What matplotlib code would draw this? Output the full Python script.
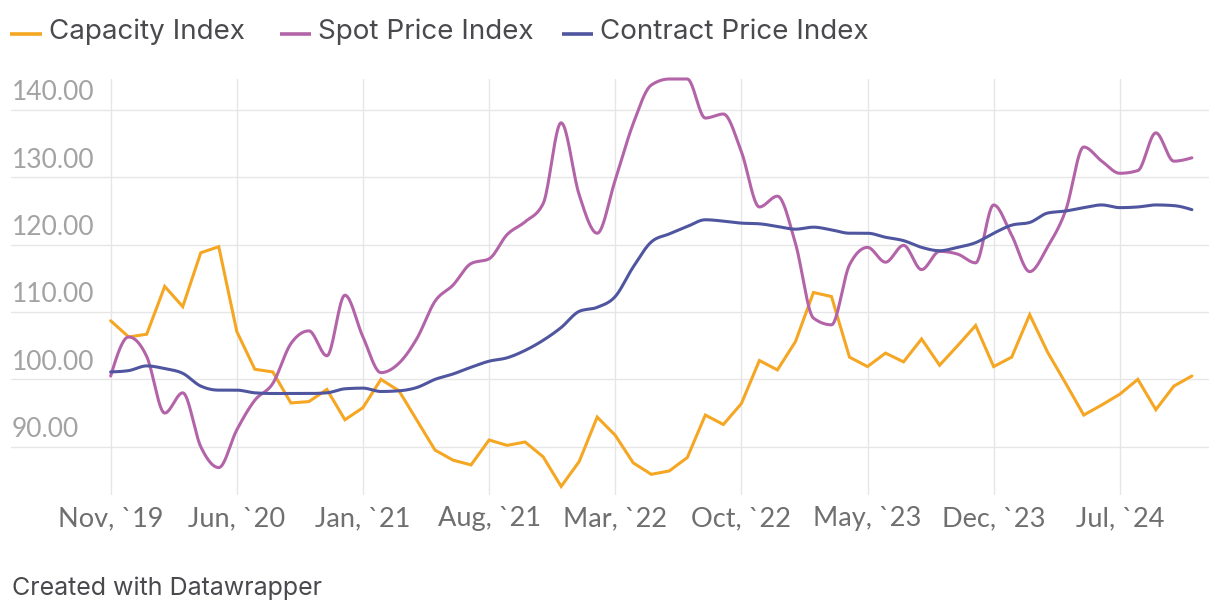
import numpy as np
import matplotlib
matplotlib.use("Agg")
import matplotlib.pyplot as plt
from matplotlib.lines import Line2D

# ---------------- data ----------------
start_month = "2019-11"
capacity = [108.7, 106.3, 106.7, 113.8, 110.8, 118.8, 119.7, 107.1, 101.5, 101.1,
            96.5, 96.7, 98.5, 94.0, 95.8, 100.0, 98.3, 93.9, 89.5, 88.0,
            87.3, 91.0, 90.2, 90.7, 88.5, 84.1, 87.8, 94.4, 91.7, 87.6,
            85.9, 86.4, 88.4, 94.7, 93.3, 96.4, 102.8, 101.4, 105.6, 112.9,
            112.3, 103.3, 101.9, 103.9, 102.6, 106.0, 102.1, 105.0, 108.0, 101.9,
            103.3, 109.6, 104.0, 99.4, 94.7, 96.2, 97.8, 100.0, 95.5, 99.0, 100.5]
spot = [100.5, 106.3, 103.4, 95.0, 98.0, 90.0, 86.9, 92.5, 96.9, 99.4,
        105.3, 107.2, 103.5, 112.5, 106.3, 101.0, 102.4, 106.1, 111.6, 114.0,
        117.2, 117.9, 121.5, 123.4, 126.1, 138.1, 127.4, 121.7, 129.6, 138.0,
        143.7, 144.6, 144.6, 138.8, 139.4, 133.8, 125.6, 127.2, 120.2, 109.1,
        108.1, 117.0, 119.6, 117.4, 119.9, 116.3, 119.0, 118.6, 117.3, 125.9,
        121.4, 116.0, 119.7, 125.1, 134.5, 132.4, 130.6, 131.0, 136.6, 132.4, 132.9]
contract = [101.1, 101.3, 102.0, 101.6, 100.9, 99.0, 98.4, 98.4, 98.0, 97.9,
            97.9, 97.9, 98.0, 98.6, 98.7, 98.2, 98.3, 98.8, 100.0, 100.8,
            101.8, 102.7, 103.2, 104.3, 105.8, 107.7, 110.1, 110.7, 112.3, 116.7,
            120.4, 121.6, 122.7, 123.7, 123.5, 123.2, 123.1, 122.7, 122.3, 122.6,
            122.2, 121.7, 121.7, 121.1, 120.6, 119.6, 119.1, 119.6, 120.3, 121.7,
            122.9, 123.3, 124.7, 125.0, 125.5, 125.9, 125.5, 125.6, 125.9, 125.8, 125.2]
series_names = ["Capacity Index", "Spot Price Index", "Contract Price Index"]
tick_labels = ["Nov, `19", "Jun, `20", "Jan, `21", "Aug, `21", "Mar, `22",
               "Oct, `22", "May, `23", "Dec, `23", "Jul, `24"]
y_ticks = [90, 100, 110, 120, 130, 140]

# ---------------- styling ----------------
FONT = "Lato"
FONT2 = "Inter"
C_ORANGE = "#f5a623"
C_PURPLE = "#b364a8"
C_NAVY = "#4f569f"
GRID = "#e6e6e6"


def monotone_x(x, y, n=20):
    """d3.curveMonotoneX style interpolation (Steffen slopes)."""
    x = np.asarray(x, float)
    y = np.asarray(y, float)
    h = np.diff(x)
    s = np.diff(y) / h
    m = np.zeros_like(y)
    for i in range(1, len(y) - 1):
        s0, s1, h0, h1 = s[i - 1], s[i], h[i - 1], h[i]
        p = (s0 * h1 + s1 * h0) / (h0 + h1)
        m[i] = (np.sign(s0) + np.sign(s1)) * min(abs(s0), abs(s1), 0.5 * abs(p))
    m[0] = (3 * s[0] - m[1]) / 2 if len(y) > 2 else s[0]
    m[-1] = (3 * s[-1] - m[-2]) / 2 if len(y) > 2 else s[-1]
    xs, ys = [], []
    for i in range(len(y) - 1):
        t = np.linspace(0, 1, n, endpoint=False)
        h00 = 2 * t**3 - 3 * t**2 + 1
        h10 = t**3 - 2 * t**2 + t
        h01 = -2 * t**3 + 3 * t**2
        h11 = t**3 - t**2
        xs.append(x[i] + t * h[i])
        ys.append(h00 * y[i] + h10 * h[i] * m[i] + h01 * y[i + 1] + h11 * h[i] * m[i + 1])
    xs.append([x[-1]])
    ys.append([y[-1]])
    return np.concatenate(xs), np.concatenate(ys)


W, H = 1220, 612
fig = plt.figure(figsize=(W / 100, H / 100), dpi=100)
fig.patch.set_facecolor("white")

left_px, right_px, top_px, bot_px = 11, 1209, 79, 495
ax = fig.add_axes([left_px / W, 1 - bot_px / H, (right_px - left_px) / W, (bot_px - top_px) / H])
ax.set_facecolor("white")

months = np.arange(len(capacity))
tick_pos = months[::7][:len(tick_labels)]

ax.set_xlim(-5.53, 60.95)
ax.set_ylim(82.83, 144.6)
for s in ax.spines.values():
    s.set_visible(False)
ax.set_xticks([])
ax.set_yticks([])

# gridlines
for v in y_ticks:
    ax.axhline(v, color=GRID, lw=1.0, zorder=1)
for p in tick_pos:
    ax.axvline(p, color=GRID, lw=1.0, zorder=1)

# lines
ax.plot(months, capacity, color=C_ORANGE, lw=2.2, zorder=3,
        solid_joinstyle="miter", solid_capstyle="round", clip_on=False)
xs, ys = monotone_x(months, spot)
ax.plot(xs, ys, color=C_PURPLE, lw=2.2, zorder=3, solid_capstyle="round", clip_on=False)
xs, ys = monotone_x(months, contract)
ax.plot(xs, ys, color=C_NAVY, lw=2.2, zorder=4, solid_capstyle="round", clip_on=False)

# y labels (above gridlines, left)
for v in y_ticks:
    ax.annotate(f"{v:.2f}", xy=(0.0, v), xycoords=("axes fraction", "data"),
                xytext=(0.5, 7.0), textcoords="offset points",
                ha="left", va="baseline", fontsize=19, color="#a3a3a3",
                family=FONT, zorder=5)

# x labels
for p, lab in zip(tick_pos, tick_labels):
    ax.annotate(lab, xy=(p, 0.0), xycoords=("data", "axes fraction"),
                xytext=(0, -22.5), textcoords="offset points",
                ha="center", va="baseline", fontsize=19.5, color="#6f6f6f",
                family=FONT, annotation_clip=False)

# legend
legend_items = [(10, 42, 49, C_ORANGE), (280, 311, 318, C_PURPLE), (562, 593, 600, C_NAVY)]
for (x0, x1, xt, c), name in zip(legend_items, series_names):
    fig.add_artist(Line2D([x0 / W, x1 / W], [1 - 34 / H, 1 - 34 / H],
                          transform=fig.transFigure, color=c, lw=2.6,
                          solid_capstyle="butt"))
    fig.text(xt / W, 1 - 32 / H, name, ha="left", va="center",
             fontsize=20, color="#4a4a4e", family=FONT2)

# footer
fig.text(11.5 / W, 1 - 588 / H, "Created with Datawrapper", ha="left", va="center",
         fontsize=18, color="#4a4a4e", family=FONT2)

fig.savefig("out.png", dpi=100, facecolor="white")
